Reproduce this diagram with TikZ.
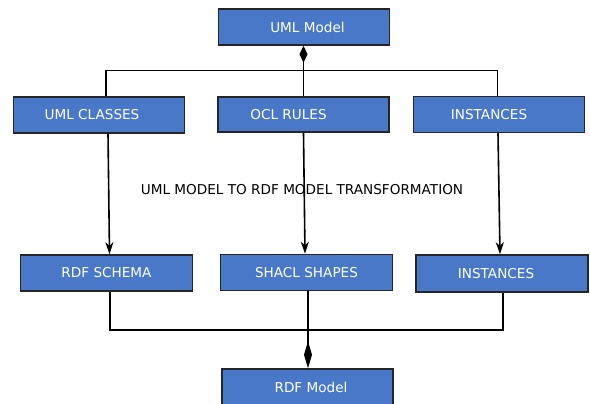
\documentclass[tikz,border=0pt]{standalone}
\usepackage{fontspec}
\setmainfont{DejaVu Sans}
\usetikzlibrary{arrows.meta}
\definecolor{boxblue}{HTML}{4A78C8}
\begin{document}
\begin{tikzpicture}[x=1pt,y=-1pt,
  font=\fontsize{13.6}{16}\selectfont,
  blockbox/.style={draw=black!85, line width=1.5pt, fill=boxblue, text=white,
    minimum width=171pt, minimum height=36pt, inner sep=0pt},
  wire/.style={draw=black, line width=1.6pt},
  arr/.style={wire, -{Stealth[length=12pt,width=8pt,inset=3.5pt]}},
]
\useasboundingbox (0,0) rectangle (590,404);

% UML side
\node[blockbox] (umlm)  at (304,27)      {\kern7pt UML Model};
\node[blockbox] (ucls)  at (99,115)      {UML CLASSES\kern14pt};
\node[blockbox, minimum height=35pt] (ocl) at (303.5,114.5) {OCL RULES\kern30pt};
\node[blockbox] (inst1) at (499,114.5)   {INSTANCES\kern20pt};

% transformation label
\node (lbl) at (302,190) {UML MODEL TO RDF MODEL TRANSFORMATION};

% RDF side
\node[blockbox, minimum width=172pt] (rdfs)  at (106.5,273) {RDF SCHEMA};
\node[blockbox, minimum width=172pt] (shacl) at (306.5,272.5) {SHACL SHAPES};
\node[blockbox, minimum width=172pt, minimum height=37pt] (inst2) at (502,273.5) {INSTANCES\kern12pt};
\node[blockbox] (rdfm)  at (307.5,387)   {\kern7pt RDF Model};

% composition of the UML model
\coordinate (bus1) at (303.5,70.5);
\draw[wire] ([xshift=7pt]ucls.north) |- (bus1) -| ([xshift=-1.5pt]inst1.north);
\draw[wire, {Diamond[length=17pt,width=8pt]}-] ([xshift=-0.5pt]umlm.south) -- ([xshift=-0.5pt]umlm.south |- ocl.north);

% transformations
\draw[arr] ([xshift=9pt]ucls.south) -- ([xshift=3pt]rdfs.north);
\draw[arr] (ocl.south) -- ([xshift=-1.5pt]shacl.north);
\draw[arr] ([xshift=-1pt]inst1.south) -- ([xshift=-2pt]inst2.north);

% composition of the RDF model
\coordinate (bus2) at (308,330);
\draw[wire] ([xshift=3.5pt]rdfs.south) |- (bus2) -| ([xshift=1pt]inst2.south);
\draw[wire, -{Diamond[length=27pt,width=8pt]}] ([xshift=1.5pt]shacl.south) -- ([xshift=1.5pt]shacl.south |- rdfm.north);
\end{tikzpicture}
\end{document}
